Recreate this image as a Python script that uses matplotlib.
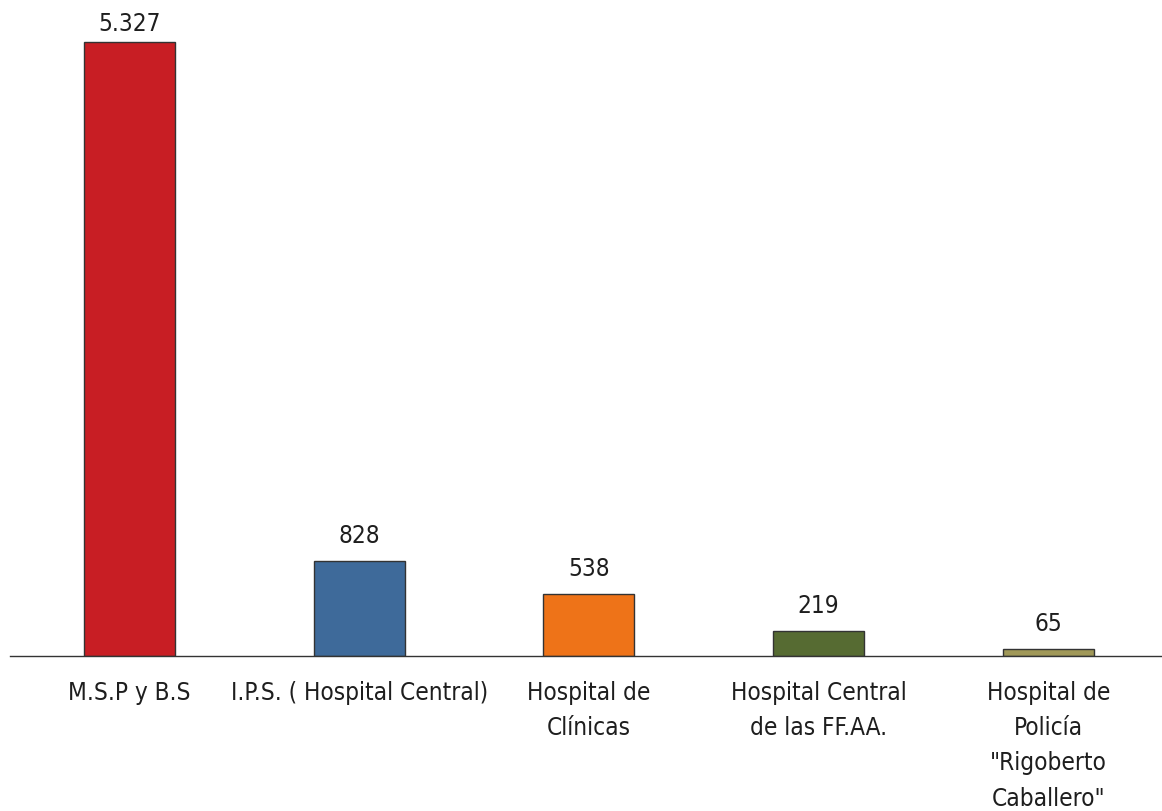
import matplotlib
matplotlib.use('Agg')
import matplotlib.pyplot as plt
from matplotlib import font_manager

categorias = ['M.S.P y B.S', 'I.P.S. ( Hospital Central)', 'Hospital de\nClínicas',
              'Hospital Central\nde las FF.AA.', 'Hospital de\nPolicía\n"Rigoberto\nCaballero"']
valores = [5327, 828, 538, 219, 65]
etiquetas = ['5.327', '828', '538', '219', '65']
colores = ['#c81e24', '#3e6a9a', '#ee7318', '#566b32', '#a09858']

# prefer a narrow font like the original (Arial Narrow look)
fuentes = font_manager.fontManager.ttflist
nombres = {f.name for f in fuentes}
estiramiento = 'normal'
if 'Liberation Sans Narrow' in nombres:
    familia, tam, interlin = 'Liberation Sans Narrow', 21, 1.34
elif any(f.name == 'DejaVu Sans' and f.stretch == 'condensed' for f in fuentes):
    familia, tam, interlin, estiramiento = 'DejaVu Sans', 17.5, 1.6, 'condensed'
else:
    familia, tam, interlin = 'Liberation Sans', 17, 1.68
plt.rcParams['font.family'] = [familia, 'DejaVu Sans']
plt.rcParams['font.stretch'] = estiramiento

fig = plt.figure(figsize=(11.62, 8.12), dpi=100)
ax = fig.add_axes([10 / 1162, 155 / 812, 1152 / 1162, 657 / 812])

x = range(len(valores))
barras = ax.bar(x, valores, width=0.396, color=colores, edgecolor='#333333', linewidth=1)
ymax = 5327 * 657 / 614
for b, t in zip(barras, etiquetas):
    ax.annotate(t, (b.get_x() + b.get_width() / 2, b.get_height()),
                xytext=(0, 10 if b.get_height() < ymax * 0.8 else 5), textcoords='offset points',
                ha='center', va='bottom', fontsize=tam, color='#1e1e1e')

ax.set_xlim(-0.520, 4.495)
ax.set_ylim(0, ymax)
ax.set_xticks(list(x))
ax.set_xticklabels(categorias, fontsize=tam, color='#1e1e1e', linespacing=interlin)
ax.tick_params(axis='x', length=0, pad=17)
ax.set_yticks([])
for s in ['top', 'right', 'left']:
    ax.spines[s].set_visible(False)
ax.spines['bottom'].set_color('#333333')
ax.spines['bottom'].set_linewidth(1)

fig.savefig('out.png', dpi=100)
